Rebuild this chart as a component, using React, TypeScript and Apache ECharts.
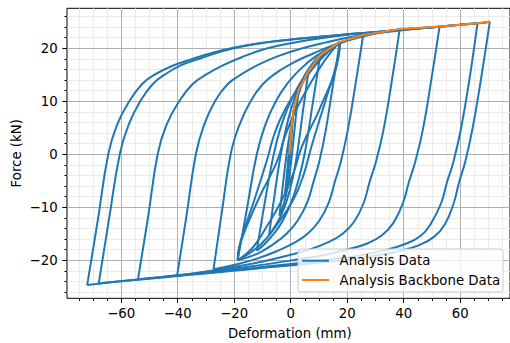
import { useEffect, useRef } from "react";
import * as echarts from "echarts";

// ---------- data (deformation mm, force kN) ----------
const load0 = [[0, 0], [0.3, 2.4], [0.6, 4.5]];
const unload0 = [[0.6, 4.5], [0.2, 1.8], [-0.2, -0.8], [-0.7, -4.2]];
const reload0 = [[-0.7, -4.2], [-0.3, -1.5], [0.3, 2.5], [0.9, 5.6], [1.5, 8.3]];
const unload1 = [[1.5, 8.3], [0.9, 4.2], [0.3, 0.4], [-0.4, -3.2], [-1, -5.8], [-1.6, -7.8]];
const reload1 = [[-1.6, -7.8], [-0.9, -4], [-0.2, 0], [0.5, 3.8], [1.3, 7.2], [2.2, 9.8], [3.3, 12.1]];
const unload2 = [[3.3, 12.1], [2.2, 6.5], [1.1, 0.8], [0.1, -3.8], [-1, -7.3], [-2.2, -9.8], [-3.5, -11.6]];
const reload2 = [[-3.5, -11.6], [-2.3, -5.8], [-1.1, -0.5], [0.2, 4], [1.7, 8.2], [3.4, 11.5], [5, 13.8], [6.8, 15.6]];
const unload3 = [[6.8, 15.6], [4.8, 8], [2.9, 0.5], [1.2, -4.5], [-0.8, -8.6], [-3, -11.6], [-5.1, -13.6], [-7.2, -15.2]];
const reload3 = [[-7.2, -15.2], [-5.3, -7.8], [-3.3, -0.8], [-1.6, 3.8], [0.6, 8.5], [3, 12.2], [5.6, 15], [8.2, 17.1], [11, 18.7]];
const unload4 = [[11, 18.7], [8.3, 9.5], [5.6, 0.5], [3.3, -4.8], [0.6, -9.2], [-2.4, -12.6], [-5.5, -15], [-8.5, -16.8], [-11.6, -18.2]];
const reload4 = [[-11.6, -18.2], [-8.7, -9], [-5.8, -0.6], [-3.4, 4.5], [-0.4, 9], [3.2, 12.8], [7, 15.8], [11.5, 18.4], [14.8, 20], [18, 21.2]];
const unload5 = [[18, 21.2], [15.4, 12.6], [12.9, 4.3], [10.6, -1.5], [8.6, -5.2], [6.3, -9.2], [3, -12.5], [-1, -15], [-5.8, -17], [-11.5, -18.8], [-18.4, -20]];
const reloadT1 = [[-18.4, -20], [-17.4, -16.5], [-13, -9.5], [-7.9, -1], [-5.2, 4], [-1.5, 8.5], [4, 13], [10.5, 17.5], [18, 21.2]];
const unloadT1 = [[18, 21.2], [17.2, 17.8], [12.8, 10], [7.9, 1.5], [5, -4], [1.5, -8.5], [-4, -13], [-10.5, -17.2], [-18.4, -20]];
const reloadT2 = [[-18.4, -20], [-17.6, -17], [-11, -8.5], [-4.5, -1.5], [-1.5, 3.5], [2.5, 8.5], [8, 13.8], [13, 18], [18, 21.2]];
const unloadT2 = [[18, 21.2], [17.6, 18.5], [11, 8.8], [4.5, 1.5], [1.5, -3.5], [-2.5, -8.5], [-8, -13.6], [-13, -17.6], [-18.4, -20]];
const reload5 = [[-18.4, -20], [-15, -10], [-11.6, 0], [-8.6, 5.5], [-4.8, 10], [-0.6, 13.4], [4, 16.1], [9.5, 18.5], [15, 20.2], [20.5, 21.5], [26.3, 22.5]];
const unload6 = [[26.3, 22.5], [23.5, 13], [20.8, 4.5], [18.3, -1.5], [16.2, -5.2], [14, -9.2], [10.6, -12.6], [6.5, -15], [1.5, -16.8], [-4.5, -18.3], [-11.5, -19.7], [-19, -20.8], [-27, -21.7]];
const reload6 = [[-27, -21.7], [-24, -10.8], [-20.9, 0], [-17.8, 5.5], [-13.8, 10], [-9.5, 13.2], [-4.5, 15.4], [1.5, 17.3], [8.5, 19], [16, 20.6], [24, 21.9], [32, 22.9], [39.3, 23.6]];
const unload7 = [[39.3, 23.6], [36.3, 13.2], [33.5, 4.5], [30.8, -1.5], [28.6, -5.2], [26.4, -9.3], [23, -12.8], [19, -15], [13.5, -16.7], [7, -18], [-0.5, -19.1], [-9, -20.2], [-19, -21.2], [-29, -22.1], [-40, -23]];
const reload7 = [[-40, -23], [-36.6, -11.5], [-33.3, 0], [-30.4, 5.5], [-26.5, 10], [-22, 13.2], [-17, 15.1], [-11, 16.9], [-4, 18.5], [4, 19.9], [13, 21.1], [22, 22.1], [32, 22.9], [42, 23.5], [53.5, 24.1]];
const unload8 = [[53.5, 24.1], [50.4, 13.5], [47.5, 4.5], [44.8, -1.5], [42.6, -5.2], [40.4, -9.3], [37, -13], [33, -15.3], [27.5, -16.9], [20.5, -18], [12.5, -19], [3.5, -19.8], [-6, -20.6], [-17, -21.4], [-29, -22.2], [-41, -22.9], [-53.9, -23.6]];
const reload8 = [[-53.9, -23.6], [-50.3, -11.8], [-46.9, 0], [-43.8, 5.5], [-39.2, 10], [-34.5, 13.2], [-29.7, 15], [-23.5, 16.8], [-16.5, 18.4], [-9, 19.8], [0, 20.9], [10, 21.8], [20, 22.5], [30, 23], [40, 23.5], [50, 23.9], [60, 24.4], [67, 24.7]];
const unload9 = [[67, 24.7], [64.1, 14], [61.2, 5], [58.4, -1.5], [56.2, -5.2], [54, -9.3], [50.5, -13], [46.8, -15.4], [41, -17], [34, -18.1], [26, -19], [17, -19.7], [7, -20.3], [-3, -20.9], [-15, -21.6], [-28, -22.3], [-42, -23], [-55, -23.7], [-67.9, -24.4]];
const reload9 = [[-67.9, -24.4], [-64.2, -12.2], [-60.4, 0], [-57.3, 5.5], [-53.1, 10], [-48.7, 13.2], [-44.4, 15], [-38.5, 16.8], [-31.5, 18.1], [-24, 19.4], [-16, 20.4], [-8, 21.1], [0, 21.6], [10, 22.1], [20, 22.6], [30, 23], [40, 23.5], [50, 23.9], [60, 24.4], [67, 24.7], [71.4, 25]];
const unload10 = [[71.4, 25], [68.2, 14], [65.3, 5], [62.6, -1.5], [60.5, -5.2], [58.5, -9.3], [55.4, -13.2], [51.5, -15.6], [46, -17.2], [39, -18.3], [31, -19.1], [22, -19.8], [12, -20.4], [2, -20.9], [-8, -21.4], [-20, -22], [-32, -22.6], [-44, -23.2], [-56, -23.8], [-66, -24.3], [-72, -24.7]];
const reload10 = [[-72, -24.7], [-68.2, -12.4], [-64.5, 0], [-61.4, 5.5], [-57, 10], [-52.5, 13.2], [-48, 15], [-42, 16.6], [-35, 17.9], [-27, 19.2], [-19, 20.2], [-10, 21], [0, 21.6], [10, 22.1], [20, 22.6], [30, 23], [40, 23.5], [50, 23.9], [60, 24.4], [67, 24.7], [71.4, 25]];

const analysisBranches = [
  load0, unload0, reload0, unload1, reload1, unload2, reload2, unload3, reload3,
  unload4, reload4, unload5, reloadT1, unloadT1, reloadT2, unloadT2, reload5,
  unload6, reload6, unload7, reload7, unload8, reload8, unload9, reload9,
  unload10, reload10,
];

const backboneX = [0, 0.6, 1.5, 3.3, 6.8, 11, 18, 26.3, 39.3, 53.5, 67, 71.4];
const backboneY = [0, 4.5, 8.3, 12.1, 15.6, 18.7, 21.2, 22.5, 23.6, 24.1, 24.7, 25.0];

const xMajorTicks = { min: -60, max: 60, step: 20 };
const xMinorTicks = { min: -75, max: 75, step: 5 };
const yMajorTicks = { min: -20, max: 20, step: 10 };
const yMinorTicks = { min: -26, max: 26, step: 2 };

const seriesNames = ["Analysis Data", "Analysis Backbone Data"];
const xTitle = "Deformation (mm)";
const yTitle = "Force (kN)";

// ---------- layout ----------
const FONT = "DejaVu Sans";
const X0 = 290.7; // pixel of x = 0
const KX = 2.825; // px per mm
const Y0 = 154.2; // pixel of y = 0
const KY = 5.3; // px per kN
const PL = 67, PT = 8.3, PR = 512.7, PB = 298.3;
const vx = (p: number) => (p - X0) / KX;
const vy = (p: number) => (Y0 - p) / KY;

const fmt = (v: number) => (v < 0 ? "\u2212" + Math.abs(v) : String(v));

export default function App() {
  const ref = useRef<HTMLDivElement>(null);
  useEffect(() => {
    const chart = echarts.init(ref.current!, null, { renderer: "svg" });
    const hiddenX = (gi: number) => ({ type: "value", gridIndex: gi, show: false, min: 0, max: 1 });
    const hiddenY = (gi: number) => ({ type: "value", gridIndex: gi, show: false, min: 0, max: 1 });
    const option: any = {
      animation: false,
      backgroundColor: "#ffffff",
      textStyle: { fontFamily: FONT },
      grid: [
        { left: PL, top: PT, width: PR - PL, height: PB - PT, show: true, borderColor: "#000", borderWidth: 1, backgroundColor: "transparent" },
        { left: X0 + xMinorTicks.min * KX, width: (xMinorTicks.max - xMinorTicks.min) * KX, top: PT, height: PB - PT },
        { left: X0 + xMajorTicks.min * KX, width: (xMajorTicks.max - xMajorTicks.min) * KX, top: PT, height: PB - PT },
        { left: PL, width: PR - PL, top: Y0 - yMinorTicks.max * KY, height: (yMinorTicks.max - yMinorTicks.min) * KY },
        { left: PL, width: PR - PL, top: Y0 - yMajorTicks.max * KY, height: (yMajorTicks.max - yMajorTicks.min) * KY },
      ],
      xAxis: [
        { type: "value", gridIndex: 0, min: vx(PL), max: vx(PR), axisLine: { show: false }, axisTick: { show: false }, axisLabel: { show: false }, splitLine: { show: false } },
        {
          type: "value", gridIndex: 1, min: xMinorTicks.min, max: xMinorTicks.max, interval: xMinorTicks.step, z: 0,
          axisLine: { show: false }, axisLabel: { show: false },
          axisTick: { show: true, length: 2.7, lineStyle: { color: "#000", width: 0.9 } },
          splitLine: { show: true, lineStyle: { color: "#ebebeb", width: 1 } },
        },
        {
          type: "value", gridIndex: 2, min: xMajorTicks.min, max: xMajorTicks.max, interval: xMajorTicks.step, z: 1,
          axisLine: { show: false },
          axisTick: { show: true, length: 4.7, lineStyle: { color: "#000", width: 1 } },
          axisLabel: { show: true, interval: 0, margin: 9, formatter: fmt, color: "#000", fontSize: 13.3, fontFamily: FONT },
          splitLine: { show: true, lineStyle: { color: "#b0b0b0", width: 1 } },
        },
        hiddenX(3),
        hiddenX(4),
      ],
      yAxis: [
        { type: "value", gridIndex: 0, min: vy(PB), max: vy(PT), axisLine: { show: false }, axisTick: { show: false }, axisLabel: { show: false }, splitLine: { show: false } },
        hiddenY(1),
        hiddenY(2),
        {
          type: "value", gridIndex: 3, min: yMinorTicks.min, max: yMinorTicks.max, interval: yMinorTicks.step, z: 0,
          axisLine: { show: false }, axisLabel: { show: false },
          axisTick: { show: true, length: 2.7, lineStyle: { color: "#000", width: 0.9 } },
          splitLine: { show: true, lineStyle: { color: "#ebebeb", width: 1 } },
        },
        {
          type: "value", gridIndex: 4, min: yMajorTicks.min, max: yMajorTicks.max, interval: yMajorTicks.step, z: 1,
          axisLine: { show: false },
          axisTick: { show: true, length: 4.7, lineStyle: { color: "#000", width: 1 } },
          axisLabel: { show: true, interval: 0, margin: 9.4, formatter: fmt, color: "#000", fontSize: 13.3, fontFamily: FONT },
          splitLine: { show: true, lineStyle: { color: "#b0b0b0", width: 1 } },
        },
      ],
      legend: {
        show: true,
        orient: "vertical",
        left: 298,
        top: 249,
        padding: [4.2, 3, 4.5, 4],
        itemWidth: 27,
        itemHeight: 2,
        itemGap: 4.3,
        icon: "rect",
        selectedMode: false,
        backgroundColor: "rgba(255,255,255,0.8)",
        borderColor: "#cccccc",
        borderWidth: 1,
        borderRadius: 3,
        textStyle: { fontFamily: FONT, fontSize: 13.3, color: "#000", lineHeight: 15, padding: [0, 0, 0, 5.6] },
        data: seriesNames,
      },
      graphic: [
        { type: "text", x: 289.9, y: 333, style: { text: xTitle, fontFamily: FONT, fontSize: 13.3, fill: "#000", textAlign: "center", textVerticalAlign: "middle" } },
        { type: "text", x: 16.5, y: 153.3, rotation: Math.PI / 2, style: { text: yTitle, fontFamily: FONT, fontSize: 13.3, fill: "#000", textAlign: "center", textVerticalAlign: "middle" } },
      ],
      series: [
        ...analysisBranches.map((d) => ({
          type: "line",
          name: seriesNames[0],
          xAxisIndex: 0,
          yAxisIndex: 0,
          data: d,
          showSymbol: false,
          symbol: "none",
          smooth: 0.45,
          silent: true,
          z: 2,
          lineStyle: { color: "#1f77b4", width: 2 },
          itemStyle: { color: "#1f77b4" },
        })),
        {
          type: "line",
          name: seriesNames[1],
          xAxisIndex: 0,
          yAxisIndex: 0,
          data: backboneX.map((x, i) => [x, backboneY[i]]),
          showSymbol: false,
          symbol: "none",
          silent: true,
          z: 3,
          lineStyle: { color: "#ff7f0e", width: 2 },
          itemStyle: { color: "#ff7f0e" },
        },
      ],
    };
    chart.setOption(option);
    return () => chart.dispose();
  }, []);
  return <div ref={ref} style={{ position: "fixed", left: 0, top: 0, width: 510, height: 343 }} />;
}
